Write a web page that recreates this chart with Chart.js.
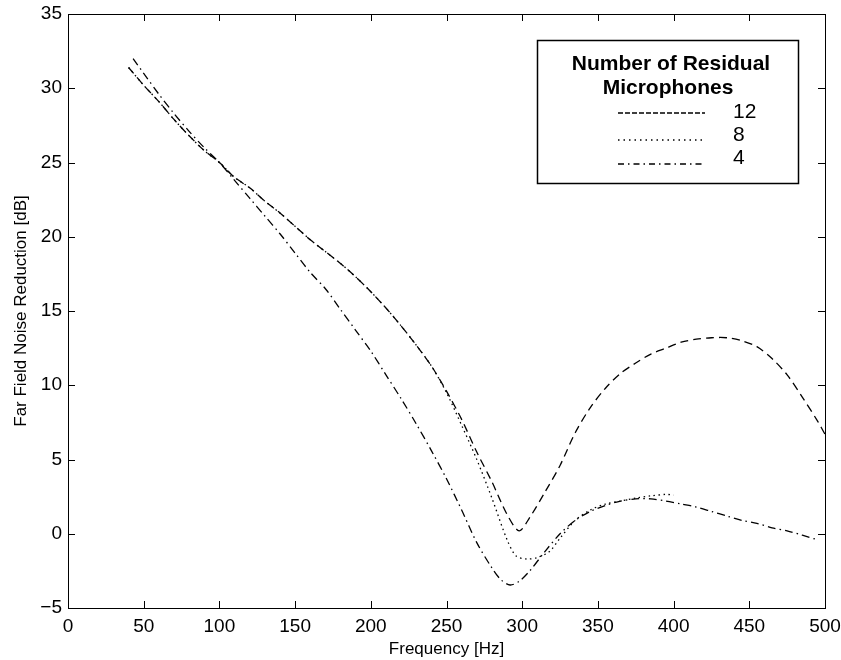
<!DOCTYPE html>
<html>
<head>
<meta charset="utf-8">
<script src="https://cdn.jsdelivr.net/npm/chart.js@4"></script>
<style>
  html, body { margin: 0; padding: 0; background: #fff; }
  #wrap { width: 841px; height: 660px; }
</style>
</head>
<body>
<div id="wrap"><canvas id="chart" width="841" height="660"></canvas></div>
<script>
// values
const freq12 = [40, 50, 60, 70, 80, 90, 100, 110, 120, 130, 140, 150, 160, 170, 180, 190, 200, 210, 220, 230, 240, 250, 260, 270, 280, 290, 298, 305, 315, 325, 335, 345, 355, 365, 375, 385, 395, 405, 415, 425, 435, 445, 455, 465, 475, 485, 495, 500]
const db12 = [31.4, 30.2, 29.1, 27.9, 26.8, 25.8, 25.0, 24.0, 23.3, 22.4, 21.6, 20.7, 19.8, 19.0, 18.2, 17.3, 16.3, 15.2, 14.0, 12.7, 11.3, 9.6, 7.7, 5.5, 3.5, 1.3, 0.2, 1.1, 2.8, 4.6, 6.8, 8.5, 9.8, 10.8, 11.5, 12.1, 12.5, 12.9, 13.1, 13.2, 13.2, 13.0, 12.6, 11.8, 10.7, 9.2, 7.6, 6.7]

const freq8 = [40, 50, 60, 70, 80, 90, 100, 110, 120, 130, 140, 150, 160, 170, 180, 190, 200, 210, 220, 230, 240, 250, 260, 270, 280, 290, 296, 303, 310, 318, 325, 335, 345, 355, 365, 375, 385, 395, 400]
const db8 = [31.4, 30.2, 29.1, 27.9, 26.8, 25.8, 25.0, 24.0, 23.3, 22.4, 21.6, 20.7, 19.8, 19.0, 18.2, 17.3, 16.3, 15.2, 14.0, 12.7, 11.3, 9.5, 7.3, 5.0, 2.4, -0.4, -1.5, -1.7, -1.6, -1.2, -0.3, 0.9, 1.6, 2.0, 2.2, 2.4, 2.55, 2.65, 2.6]

const freq4 = [43, 50, 60, 70, 80, 90, 100, 110, 120, 130, 140, 150, 160, 170, 180, 190, 200, 210, 220, 230, 240, 250, 260, 270, 280, 286, 292, 298, 305, 315, 325, 335, 345, 355, 365, 375, 385, 395, 405, 415, 425, 435, 445, 455, 465, 475, 485, 495]
const db4 = [32.0, 31.0, 29.6, 28.3, 27.1, 26.0, 25.0, 23.8, 22.6, 21.4, 20.2, 18.9, 17.6, 16.5, 15.1, 13.7, 12.3, 10.7, 9.1, 7.4, 5.6, 3.7, 1.6, -0.6, -2.3, -3.1, -3.45, -3.2, -2.5, -1.2, 0.0, 0.9, 1.5, 1.9, 2.2, 2.35, 2.35, 2.2, 2.0, 1.8, 1.5, 1.2, 0.9, 0.7, 0.4, 0.2, -0.1, -0.4]

const seriesNames = ["12", "8", "4"]
const xTicks = [0, 50, 100, 150, 200, 250, 300, 350, 400, 450, 500]
const yTicks = [-5, 0, 5, 10, 15, 20, 25, 30, 35]

const FONT = "'Liberation Sans', Arial, Helvetica, sans-serif"

function pts(xs, ys) {
  return xs.map((x, i) => ({ x: x, y: ys[i] }))
}

// box, inward ticks and the legend, MATLAB style
const frame = {
  id: "frame",
  afterDatasetsDraw(chart) {
    const ctx = chart.ctx
    const a = chart.chartArea
    const xs = chart.scales.x
    const ys = chart.scales.y
    ctx.save()
    ctx.strokeStyle = "#000"
    ctx.lineWidth = 1
    ctx.setLineDash([])
    ctx.strokeRect(Math.round(a.left) + 0.5, Math.round(a.top) + 0.5, Math.round(a.right - a.left), Math.round(a.bottom - a.top))
    const tl = 7
    ctx.beginPath()
    xs.ticks.forEach(t => {
      const px = Math.round(xs.getPixelForValue(t.value)) + 0.5
      ctx.moveTo(px, a.bottom); ctx.lineTo(px, a.bottom - tl)
      ctx.moveTo(px, a.top); ctx.lineTo(px, a.top + tl)
    })
    ys.ticks.forEach(t => {
      const py = Math.round(ys.getPixelForValue(t.value)) + 0.5
      ctx.moveTo(a.left, py); ctx.lineTo(a.left + tl, py)
      ctx.moveTo(a.right, py); ctx.lineTo(a.right - tl, py)
    })
    ctx.stroke()

    // legend
    const L = 537, T = 40, R = 798, B = 183
    ctx.fillStyle = "#fff"
    ctx.fillRect(L, T, R - L, B - T)
    ctx.lineWidth = 1.5
    ctx.strokeRect(L + 0.5, T + 0.5, R - L, B - T)
    ctx.fillStyle = "#000"
    ctx.textAlign = "center"
    ctx.textBaseline = "middle"
    ctx.font = "bold 21px " + FONT
    ctx.fillText("Number of Residual", 671, 64)
    ctx.fillText("Microphones", 668, 88)
    ctx.font = "21px " + FONT
    ctx.textAlign = "left"
    const rowY = [112, 135, 158]
    const lineY = [113, 140, 164]
    chart.data.datasets.forEach((ds, i) => {
      ctx.beginPath()
      ctx.lineWidth = 1.3
      ctx.setLineDash(ds.legendDash)
      ctx.moveTo(618, lineY[i]); ctx.lineTo(705, lineY[i])
      ctx.stroke()
      ctx.setLineDash([])
      ctx.fillText(ds.label, 733, rowY[i])
    })
    ctx.restore()
  }
}

const ctx = document.getElementById("chart").getContext("2d")
new Chart(ctx, {
  type: "line",
  data: {
    datasets: [
      { label: seriesNames[0], data: pts(freq12, db12), borderDash: [8, 5], legendDash: [5, 2] },
      { label: seriesNames[1], data: pts(freq8, db8), borderDash: [1.5, 3.5], legendDash: [1.5, 4] },
      { label: seriesNames[2], data: pts(freq4, db4), borderDash: [8, 4, 1.5, 4], legendDash: [6, 4, 1.5, 4] }
    ].map(d => Object.assign(d, {
      borderColor: "#000", borderWidth: 1.3, pointRadius: 0, tension: 0.3, fill: false
    }))
  },
  options: {
    responsive: false,
    animation: false,
    layout: { padding: { top: 14, right: 16, left: 0, bottom: 0 } },
    plugins: { legend: { display: false }, tooltip: { enabled: false } },
    scales: {
      x: {
        type: "linear", min: 0, max: 500,
        afterBuildTicks: s => { s.ticks = xTicks.map(v => ({ value: v })) },
        afterFit: s => { s.height = 52; s.paddingLeft = 0; s.paddingRight = 0 },
        grid: { display: false, drawTicks: false },
        border: { display: false },
        ticks: { color: "#000", padding: 7, font: { family: FONT, size: 19 } },
        title: { display: true, text: "Frequency [Hz]", color: "#000", padding: 0, font: { family: FONT, size: 17 } }
      },
      y: {
        type: "linear", min: -5, max: 35,
        afterBuildTicks: s => { s.ticks = yTicks.map(v => ({ value: v })) },
        afterFit: s => { s.width = 68; s.paddingTop = 0; s.paddingBottom = 0 },
        grid: { display: false, drawTicks: false },
        border: { display: false },
        ticks: {
          color: "#000", padding: 6, font: { family: FONT, size: 19 },
          callback: v => String(v).replace("-", "\u2212")
        },
        title: { display: true, text: "Far Field Noise Reduction [dB]", color: "#000", padding: { top: 11, bottom: 0 }, font: { family: FONT, size: 17 } }
      }
    }
  },
  plugins: [frame]
})
</script>
</body>
</html>
